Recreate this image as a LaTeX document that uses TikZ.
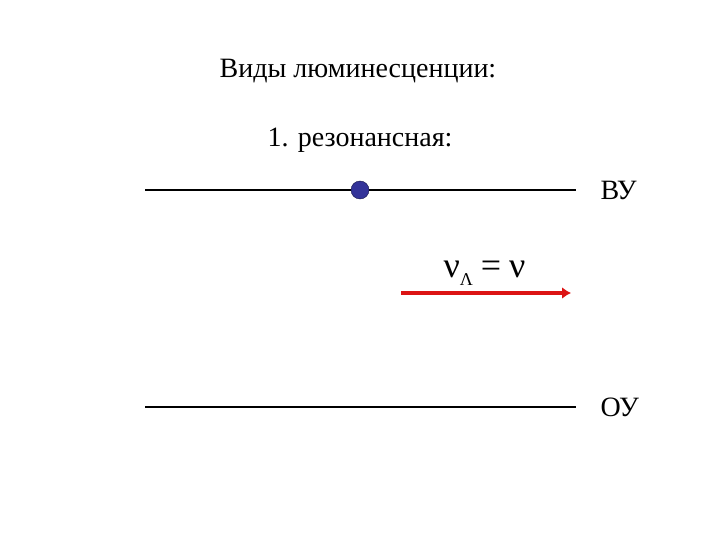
\documentclass[tikz,border=0pt]{standalone}
\usepackage{fontspec}
\setmainfont{Liberation Serif}
\usetikzlibrary{arrows.meta}
\definecolor{photon}{RGB}{220,20,20}
\definecolor{atomfill}{RGB}{51,51,153}
\definecolor{atomline}{RGB}{20,20,70}
\begin{document}
\begin{tikzpicture}[x=1pt, y=-1pt]
\useasboundingbox (0,0) rectangle (720,540);
\node[font=\fontsize{28}{32}\selectfont] (title) at (358,71){Виды люминесценции:};
\node[font=\fontsize{28}{32}\selectfont] (kind) at (360,140){1. резонансная:};
\coordinate (vu0) at (145,190);
\coordinate (vu1) at (576,190);
\coordinate (ou0) at (145,407);
\coordinate (ou1) at (576,407);
\draw[line width=1.6pt](vu0) -- (vu1);
\draw[line width=1.6pt](ou0) -- (ou1);
\node[circle, minimum size=18pt, inner sep=0pt, fill=atomfill, draw=atomline] (atom) at (360,190){};
\node[font=\fontsize{28}{32}\selectfont, anchor=west] (vu) at (597,190){ВУ};
\node[font=\fontsize{28}{32}\selectfont, anchor=west] (ou) at (597,407){ОУ};
\node[font=\fontsize{36}{40}\selectfont, anchor=west] (freq) at (440,273){ν\raisebox{-8pt}{\fontsize{18}{20}\selectfont Λ}\hspace{8pt}=\hspace{8pt}ν};
\coordinate (ph0) at (401,293);
\coordinate (ph1) at (571,293);
\draw[line width=4pt, photon, -{Latex[length=9pt,width=12pt]}](ph0) -- (ph1);
\end{tikzpicture}
\end{document}
